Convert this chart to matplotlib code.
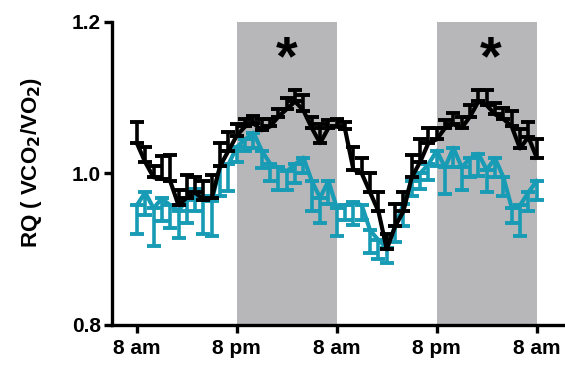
import numpy as np
import matplotlib
matplotlib.use("Agg")
import matplotlib.pyplot as plt

plt.rcParams["font.family"] = ["Liberation Sans", "DejaVu Sans"]
plt.rcParams["font.weight"] = "bold"
plt.rcParams["mathtext.default"] = "bf"

# hours from 8 am on day 1, sampled hourly
hours = np.arange(49)

black_mean = [1.040, 1.015, 0.995, 0.993, 0.990, 0.958, 0.968, 0.975, 0.965, 0.968,
              1.010, 1.030, 1.050, 1.062, 1.066, 1.057, 1.062, 1.075, 1.085, 1.095,
              1.083, 1.060, 1.040, 1.060, 1.062, 1.058, 1.005, 1.000, 0.975, 0.950,
              0.900, 0.930, 0.950, 0.995, 1.015, 1.040, 1.045, 1.060, 1.065, 1.060,
              1.075, 1.095, 1.090, 1.078, 1.072, 1.062, 1.033, 1.048, 1.021]
black_err = [0.028, 0.020, 0.015, 0.030, 0.035, 0.020, 0.030, 0.020, 0.025, 0.030,
             0.030, 0.025, 0.015, 0.010, 0.010, 0.015, 0.010, 0.010, 0.015, 0.015,
             0.020, 0.015, 0.025, 0.010, 0.010, 0.010, 0.030, 0.020, 0.025, 0.025,
             0.020, 0.030, 0.025, 0.030, 0.030, 0.020, 0.015, 0.010, 0.015, 0.015,
             0.015, 0.015, 0.020, 0.015, 0.015, 0.020, 0.025, 0.020, 0.025]

teal_mean = [0.958, 0.975, 0.954, 0.967, 0.958, 0.951, 0.965, 0.980, 0.970, 0.964,
             1.010, 1.012, 1.035, 1.045, 1.054, 1.030, 1.013, 1.008, 1.003, 1.012,
             1.021, 0.990, 0.968, 0.990, 0.955, 0.958, 0.962, 0.958, 0.925, 0.912,
             0.902, 0.930, 0.960, 0.990, 1.000, 1.012, 1.030, 1.008, 1.034, 1.008,
             1.020, 1.026, 1.005, 1.020, 0.995, 0.955, 0.958, 0.975, 0.990]
teal_err = [0.038, 0.030, 0.050, 0.030, 0.030, 0.036, 0.030, 0.030, 0.050, 0.046,
            0.040, 0.035, 0.020, 0.015, 0.020, 0.023, 0.023, 0.030, 0.025, 0.025,
            0.020, 0.040, 0.034, 0.030, 0.037, 0.020, 0.030, 0.020, 0.030, 0.025,
            0.020, 0.020, 0.030, 0.020, 0.020, 0.020, 0.020, 0.035, 0.025, 0.030,
            0.025, 0.030, 0.030, 0.025, 0.025, 0.020, 0.040, 0.025, 0.025]

tick_hours = [0, 12, 24, 36, 48]
tick_labels = ["8 am", "8 pm", "8 am", "8 pm", "8 am"]
dark_periods = [(12, 24), (36, 48)]
star_hours = [18, 42.5]

fig = plt.figure(figsize=(5.65, 3.65), dpi=100)
ax = fig.add_axes([0.198, 0.1096, 0.802, 0.8304])

for start, end in dark_periods:
    ax.axvspan(start, end, ymin=0, ymax=1, color="#b7b7b9", lw=0, zorder=0)

zeros = np.zeros(len(hours))
ax.errorbar(hours, teal_mean, yerr=[teal_err, zeros], color="#189bb5", lw=3.0,
            elinewidth=2.6, capsize=5, capthick=2.8, zorder=3)
ax.errorbar(hours, black_mean, yerr=[zeros, black_err], color="black", lw=3.0,
            elinewidth=2.6, capsize=5, capthick=2.8, zorder=4)

for h in star_hours:
    ax.text(h, 1.150, "*", ha="center", va="center", fontsize=40, fontweight="bold")

ax.set_xlim(-3, 51.4)
ax.set_ylim(0.8, 1.2)
ax.set_yticks([0.8, 1.0, 1.2])
ax.set_yticklabels(["0.8", "1.0", "1.2"])
ax.set_xticks(tick_hours)
ax.set_xticklabels(tick_labels)
ax.tick_params(axis="both", width=2.4, length=6, labelsize=15, direction="out")
ax.tick_params(axis="y", pad=2)
ax.tick_params(axis="x", pad=4)
for lab in ax.get_xticklabels() + ax.get_yticklabels():
    lab.set_fontweight("bold")

for side in ["top", "right"]:
    ax.spines[side].set_visible(False)
for side in ["left", "bottom"]:
    ax.spines[side].set_linewidth(2.4)

ax.set_ylabel("RQ ( VCO$_2$/VO$_2$)", fontsize=16, fontweight="bold")
ax.yaxis.set_label_coords(-0.15, 0.535)

fig.savefig("out.png", dpi=100)
